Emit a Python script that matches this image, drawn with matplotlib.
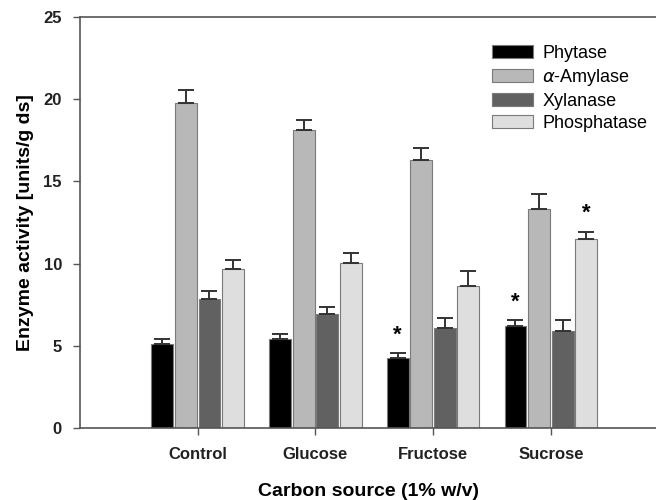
import numpy as np
import matplotlib
matplotlib.use("Agg")
import matplotlib.pyplot as plt

plt.rcParams['font.family'] = ['Liberation Sans', 'DejaVu Sans']

sources = ["Control", "Glucose", "Fructose", "Sucrose"]
enzymes = ["Phytase", r"$\alpha$-Amylase", "Xylanase", "Phosphatase"]

# mean activity and upper error (units/g ds)
phytase = [5.13, 5.43, 4.28, 6.2]
phytase_err = [0.27, 0.27, 0.26, 0.35]
amylase = [19.75, 18.13, 16.28, 13.32]
amylase_err = [0.81, 0.6, 0.77, 0.93]
xylanase = [7.83, 6.91, 6.1, 5.9]
xylanase_err = [0.5, 0.45, 0.61, 0.69]
phosphatase = [9.67, 10.06, 8.66, 11.5]
phosphatase_err = [0.53, 0.61, 0.91, 0.44]

# (enzyme index, source index) with a significance star
stars = [(0, 2), (0, 3), (3, 3)]

colors = ['#000000', '#b8b8b8', '#616161', '#dedede']
values = [phytase, amylase, xylanase, phosphatase]
errors = [phytase_err, amylase_err, xylanase_err, phosphatase_err]

fig = plt.figure(figsize=(6.56, 5.0), dpi=100)
ax = fig.add_axes([0.122, 0.144, 0.878, 0.822])

x = np.arange(1, len(sources) + 1)
w = 0.186
step = 0.2
for i, (vals, errs) in enumerate(zip(values, errors)):
    xi = x + (i - 1.5) * step
    ax.bar(xi, vals, width=w, color=colors[i], edgecolor='#7a7a7a',
           linewidth=0.8, label=enzymes[i], zorder=2)
    ax.errorbar(xi, vals, yerr=[np.zeros(len(vals)), errs], fmt='none',
                ecolor='#333333', elinewidth=1.4, capsize=5.5, capthick=1.4, zorder=3)

for ei, si in stars:
    top = values[ei][si] + errors[ei][si]
    ax.text(x[si] + (ei - 1.5) * step, top + 1.1, '*', ha='center', va='center',
            fontsize=16, fontweight='bold')

ax.set_xlim(0, 4.894)
ax.set_ylim(0, 25)
ax.set_yticks([0, 5, 10, 15, 20, 25])
ax.set_xticks(x)
ax.set_xticklabels(sources)
for lab in ax.get_xticklabels() + ax.get_yticklabels():
    lab.set_fontweight('bold')
    lab.set_fontsize(12)
    lab.set_color('#222222')
ax.tick_params(axis='both', direction='out', length=5, width=1, color='#555555')
ax.tick_params(axis='x', pad=9)
ax.tick_params(axis='y', pad=8)
ax.spines['right'].set_visible(False)
for s in ['left', 'top', 'bottom']:
    ax.spines[s].set_color('#555555')
    ax.spines[s].set_linewidth(1.2)

ax.set_ylabel('Enzyme activity [units/g ds]', fontsize=14, fontweight='bold', labelpad=7)
ax.set_xlabel('Carbon source (1% w/v)', fontsize=14, fontweight='bold', labelpad=15)

ax.legend(loc='upper left', bbox_to_anchor=(0.6875, 0.972), frameon=False, fontsize=13,
          handlelength=2.27, handleheight=0.67, labelspacing=0.28, handletextpad=0.5)

fig.savefig('out.png', dpi=100)
